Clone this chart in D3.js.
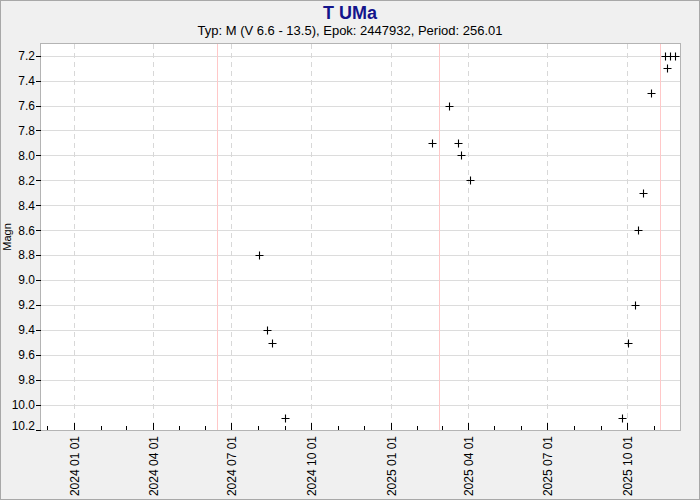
<!DOCTYPE html>
<html><head><meta charset="utf-8">
<script src="https://cdn.jsdelivr.net/npm/d3@7"></script>
<style>
body{margin:0;background:#fff}
svg{display:block;font-family:"Liberation Sans",Arial,sans-serif}
</style>
</head><body>
<svg id="c" width="700" height="500"></svg>
<script>
const title = "T UMa";
const subtitle = "Typ: M (V 6.6 - 13.5), Epok: 2447932, Period: 256.01";
const yLabel = "Magn";

const obsDates = [
  "2024-08-02","2024-08-11","2024-08-17","2024-09-01",
  "2025-02-18","2025-03-09","2025-03-20","2025-03-23","2025-04-03",
  "2025-09-25","2025-10-02","2025-10-10","2025-10-14","2025-10-20","2025-10-29",
  "2025-11-14","2025-11-17","2025-11-20","2025-11-26"
];
const obsMags = [
  8.8, 9.4, 9.5, 10.1,
  7.9, 7.6, 7.9, 8.0, 8.2,
  10.1, 9.5, 9.2, 8.6, 8.3, 7.5,
  7.2, 7.3, 7.2, 7.2
];
const maxDates = ["2024-06-14","2025-02-26","2025-11-08"];
const yTicks = [7.2,7.4,7.6,7.8,8.0,8.2,8.4,8.6,8.8,9.0,9.2,9.4,9.6,9.8,10.0,10.2];
const xMajorTicks = ["2024-01-01","2024-04-01","2024-07-01","2024-10-01","2025-01-01","2025-04-01","2025-07-01","2025-10-01"];
const xDomain = ["2023-11-24","2025-12-01T12:00"];
const yDomain = [7.107, 10.2];

const parse = d3.utcParse("%Y-%m-%d");
const pd = s => s.length > 10 ? d3.isoParse(s + "Z") : parse(s);

const W = 700, H = 500;
const L = 41, R = 680, T = 44, B = 430;
const svg = d3.select("#c");

svg.append("rect").attr("x",0).attr("y",0).attr("width",W).attr("height",H).attr("fill","#f0f0f0");
svg.append("rect").attr("x",0.5).attr("y",0.5).attr("width",W-1).attr("height",H-1)
  .attr("fill","none").attr("stroke","#a8a8a8");

const x = d3.scaleUtc().domain(xDomain.map(pd)).range([L, R]);
const y = d3.scaleLinear().domain(yDomain).range([T, B]);

svg.append("rect").attr("x",L).attr("y",T).attr("width",R-L).attr("height",B-T).attr("fill","#fff");

// horizontal grid
svg.append("g").selectAll("line").data(yTicks).join("line")
  .attr("x1",L).attr("x2",R)
  .attr("y1",d=>Math.round(y(d))+0.5).attr("y2",d=>Math.round(y(d))+0.5)
  .attr("stroke","#dcdcdc");

// vertical dashed grid
svg.append("g").selectAll("line").data(xMajorTicks.map(pd)).join("line")
  .attr("x1",d=>Math.round(x(d))+0.5).attr("x2",d=>Math.round(x(d))+0.5)
  .attr("y1",T).attr("y2",B)
  .attr("stroke","#d8d8d8").attr("stroke-dasharray","5,4");

// maxima lines
svg.append("g").selectAll("line").data(maxDates.map(pd)).join("line")
  .attr("x1",d=>Math.round(x(d))+0.5).attr("x2",d=>Math.round(x(d))+0.5)
  .attr("y1",T).attr("y2",B)
  .attr("stroke","#ffc8c8");

// x ticks (inside)
const minor = d3.utcMonth.range(x.domain()[0], x.domain()[1]);
svg.append("g").selectAll("line").data(minor).join("line")
  .attr("x1",d=>Math.round(x(d))+0.5).attr("x2",d=>Math.round(x(d))+0.5)
  .attr("y1",B-4).attr("y2",B)
  .attr("stroke","#000");
svg.append("g").selectAll("line").data(xMajorTicks.map(pd)).join("line")
  .attr("x1",d=>Math.round(x(d))+0.5).attr("x2",d=>Math.round(x(d))+0.5)
  .attr("y1",B-7).attr("y2",B)
  .attr("stroke","#000");

// plot border
svg.append("rect").attr("x",L-0.5).attr("y",T-0.5).attr("width",R-L+1).attr("height",B-T+1)
  .attr("fill","none").attr("stroke","#b4b4b4");

// y ticks (outside)
svg.append("g").selectAll("line").data(yTicks).join("line")
  .attr("x1",L-5).attr("x2",L)
  .attr("y1",d=>Math.round(y(d))+0.5).attr("y2",d=>Math.round(y(d))+0.5)
  .attr("stroke","#000");
svg.append("g").selectAll("text").data(yTicks).join("text")
  .attr("x",L-6).attr("y",d=>Math.min(y(d),B-4))
  .attr("dy","0.35em").attr("text-anchor","end")
  .attr("font-size",12).attr("fill","#000")
  .text(d=>d3.format(".1f")(d));

// x labels (rotated)
const fmt = d3.utcFormat("%Y %m %d");
svg.append("g").selectAll("text").data(xMajorTicks.map(pd)).join("text")
  .attr("transform",d=>`translate(${Math.round(x(d))+0.5},${B+6}) rotate(-90)`)
  .attr("text-anchor","end").attr("dy","0.35em")
  .attr("font-size",12).attr("fill","#000")
  .text(d=>fmt(d));

// y axis label
svg.append("text").attr("transform",`translate(11,${(T+B)/2}) rotate(-90)`)
  .attr("text-anchor","middle").attr("font-size",11).attr("fill","#000").text(yLabel);

// titles
svg.append("text").attr("x",W/2).attr("y",19).attr("text-anchor","middle")
  .attr("font-size",18).attr("font-weight","bold").attr("fill","#14148c").text(title);
svg.append("text").attr("x",W/2).attr("y",35).attr("text-anchor","middle")
  .attr("font-size",13).attr("fill","#000").text(subtitle);

// observations
const pts = obsDates.map((d,i)=>({d:pd(d), m:obsMags[i]}));
const g = svg.append("g");
pts.forEach(p=>{
  const cx = Math.round(x(p.d))+0.5, cy = Math.round(y(p.m))+0.5;
  g.append("path").attr("d",`M${cx-4},${cy}H${cx+4}M${cx},${cy-4}V${cy+4}`)
    .attr("stroke","#000").attr("stroke-width",1.1).attr("fill","none");
});
</script>
</body></html>
